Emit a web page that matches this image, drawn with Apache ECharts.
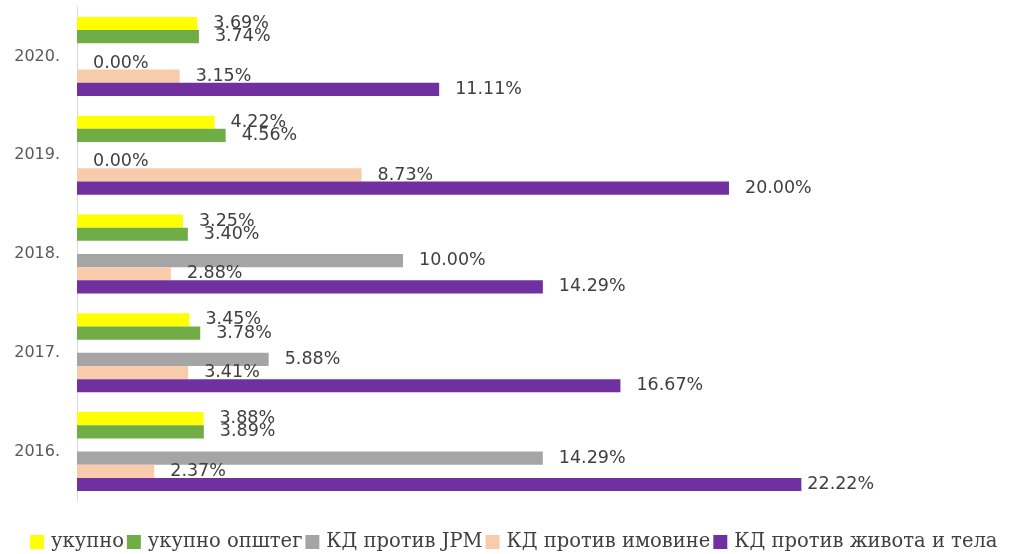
<!DOCTYPE html>
<html>
<head>
<meta charset="utf-8">
<script src="https://cdn.jsdelivr.net/npm/echarts@6/dist/echarts.min.js"></script>
<style>
  html, body { margin: 0; padding: 0; background: #fff; }
  #chart { width: 1014px; height: 554px; }
</style>
</head>
<body>
<div id="chart"></div>
<script>
const years = ['2016.', '2017.', '2018.', '2019.', '2020.'];

// vrednosti u procentima, od 2016. do 2020.
const ukupno = [3.88, 3.45, 3.25, 4.22, 3.69];
const ukupnoOpsteg = [3.89, 3.78, 3.40, 4.56, 3.74];
const protivJpm = [14.29, 5.88, 10.00, 0.00, 0.00];
const protivImovine = [2.37, 3.41, 2.88, 8.73, 3.15];
const protivZivota = [22.22, 16.67, 14.29, 20.00, 11.11];

const legendNames = ['укупно', 'укупно општег', 'КД против JPM', 'КД против имовине', 'КД против живота и тела'];

const chart = echarts.init(document.getElementById('chart'));

const labelFont = {
  show: true,
  position: 'right',
  distance: 16,
  fontFamily: 'DejaVu Sans',
  fontSize: 17.5,
  color: '#404040',
  formatter: p => p.value.toFixed(2) + '%'
};

function barSeries(name, data, color) {
  return {
    name: name,
    type: 'bar',
    data: data,
    barGap: 0,
    barCategoryGap: '20%',
    itemStyle: { color: color },
    label: labelFont
  };
}

// 22.22% je u originalu pomeren bliže stupcu
const zivotData = protivZivota.map((v, i) => i === 0
  ? { value: v, label: { distance: 6 } }
  : v);

chart.setOption({
  animation: false,
  grid: { left: 77, right: 122, top: 7, bottom: 53, containLabel: false },
  legend: {
    data: legendNames,
    left: 30,
    right: 0,
    top: 532,
    padding: 0,
    itemWidth: 14,
    itemHeight: 14,
    itemGap: 3,
    icon: 'rect',
    textStyle: { fontFamily: 'DejaVu Serif', fontSize: 19.5, color: '#404040', padding: [0, 0, 0, 2] }
  },
  xAxis: {
    type: 'value',
    min: 0,
    max: 25,
    show: false
  },
  yAxis: {
    type: 'category',
    data: years,
    axisLine: { show: true, lineStyle: { color: '#d9d9d9', width: 1 } },
    axisTick: { show: false },
    axisLabel: { margin: 17, fontFamily: 'DejaVu Sans', fontSize: 16, color: '#595959' }
  },
  series: [
    barSeries('укупно', ukupno, '#FFFF00'),
    barSeries('укупно општег', ukupnoOpsteg, '#70AD47'),
    { name: '', type: 'bar', data: years.map(() => '-'), barGap: 0, barCategoryGap: '20%' },
    barSeries('КД против JPM', protivJpm, '#A5A5A5'),
    barSeries('КД против имовине', protivImovine, '#F8CBAD'),
    barSeries('КД против живота и тела', zivotData, '#7030A0')
  ]
});
</script>
</body>
</html>
